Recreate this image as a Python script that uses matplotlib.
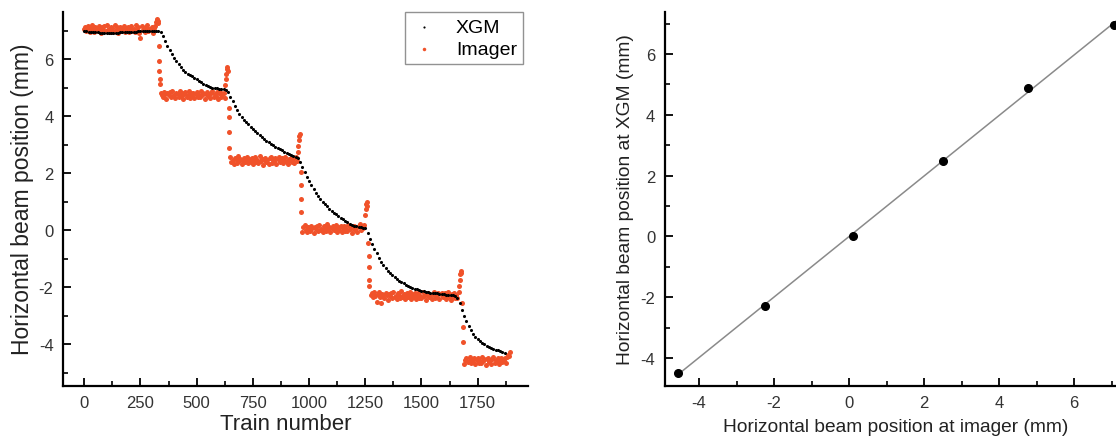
import numpy as np
import matplotlib.pyplot as plt
from matplotlib.ticker import MultipleLocator

plt.rcParams['font.family'] = ['Liberation Sans', 'DejaVu Sans']
plt.rcParams['axes.unicode_minus'] = False

# ---- left panel: XGM (every 10 trains) ----
xgm_flat = [6.99, 6.98, 6.97, 6.97, 6.96, 6.95, 6.94, 6.93, 6.92, 6.92,
            6.91, 6.91, 6.92, 6.92, 6.93, 6.93, 6.94, 6.95, 6.95, 6.96,
            6.96, 6.97, 6.97, 6.97, 6.98, 6.98, 6.98, 6.98, 6.99, 6.99,
            6.99, 7.00, 7.00]                                   # trains 0-320
xgm_step1 = [7.00, 6.96, 6.80, 6.64, 6.48, 6.34, 6.20, 6.06, 5.93, 5.82,
             5.73, 5.64, 5.57, 5.50, 5.45, 5.40, 5.34, 5.29, 5.24, 5.19,
             5.14, 5.10, 5.06, 5.03, 5.00, 4.99, 4.98, 4.97, 4.97, 4.95,
             4.92, 4.86]                                        # trains 330-640
xgm_step2 = [4.68, 4.52, 4.36, 4.22, 4.09, 3.97, 3.87, 3.79, 3.71, 3.63,
             3.55, 3.47, 3.40, 3.33, 3.26, 3.20, 3.14, 3.08, 3.03, 2.98,
             2.93, 2.89, 2.85, 2.80, 2.76, 2.71, 2.67, 2.63, 2.60, 2.56,
             2.52, 2.40]                                        # trains 650-960
xgm_step3 = [2.22, 2.05, 1.88, 1.72, 1.57, 1.43, 1.30, 1.19, 1.09, 1.00,
             0.92, 0.84, 0.76, 0.68, 0.62, 0.56, 0.50, 0.44, 0.38, 0.33,
             0.28, 0.23, 0.19, 0.16, 0.13, 0.11, 0.10, 0.09, 0.06, -0.10]  # 970-1260
xgm_step4 = [-0.30, -0.48, -0.65, -0.81, -0.96, -1.10, -1.23, -1.34, -1.44, -1.52,
             -1.59, -1.66, -1.72, -1.77, -1.82, -1.87, -1.91, -1.95, -1.99, -2.02,
             -2.05, -2.08, -2.10, -2.12, -2.14, -2.16, -2.17, -2.19, -2.20, -2.21,
             -2.22, -2.23, -2.24, -2.25, -2.26, -2.27, -2.27, -2.28, -2.30, -2.38,
             -2.55]                                             # trains 1270-1670
xgm_step5 = [-2.80, -3.02, -3.20, -3.37, -3.52, -3.64, -3.74, -3.82, -3.89, -3.95,
             -4.01, -4.05, -4.10, -4.14, -4.17, -4.20, -4.22, -4.24, -4.27, -4.30]  # 1680-1870

# ---- left panel: imager (every 5 trains on the plateaus) ----
img_a = [7.08, 7.15, 7.00, 7.18, 7.05, 6.96, 7.11, 7.20, 7.02, 6.94,
         7.13, 7.07, 6.98, 7.17, 7.09, 6.92, 7.12, 7.04, 7.16, 6.99,
         7.19, 7.01, 7.06, 6.95, 7.14, 7.10, 6.97, 7.21, 7.03, 7.12,
         6.93, 7.08, 7.15, 7.00, 7.05, 7.18, 6.96, 7.11, 7.02, 7.14,
         6.94, 7.09, 7.17, 6.99, 7.06, 6.97, 7.20, 7.04, 7.12, 6.91,
         6.76, 7.16, 7.01, 7.07, 6.95, 7.13, 7.19, 6.98, 7.08, 7.03,
         7.15, 6.93, 7.11, 7.17]                                # trains 0-315
img_b = [4.82, 4.76, 4.67, 4.86, 4.78, 4.61, 4.81, 4.73, 4.85, 4.68,
         4.88, 4.70, 4.75, 4.64, 4.83, 4.79, 4.66, 4.90, 4.72, 4.81,
         4.62, 4.77, 4.84, 4.69, 4.74, 4.87, 4.65, 4.80, 4.71, 4.83,
         4.63, 4.78, 4.86, 4.68, 4.75, 4.66, 4.89, 4.73, 4.81, 4.60,
         4.79, 4.85, 4.70, 4.76, 4.64, 4.82, 4.88, 4.67, 4.77, 4.72,
         4.84, 4.62, 4.80, 4.86, 4.69, 4.74, 4.83, 4.65]        # trains 340-625
img_c = [2.58, 2.40, 2.45, 2.34, 2.53, 2.49, 2.36, 2.60, 2.42, 2.51,
         2.32, 2.47, 2.54, 2.39, 2.44, 2.57, 2.35, 2.50, 2.41, 2.53,
         2.33, 2.48, 2.56, 2.38, 2.45, 2.36, 2.59, 2.43, 2.51, 2.30,
         2.49, 2.55, 2.40, 2.46, 2.34, 2.52, 2.58, 2.37, 2.47, 2.42,
         2.54, 2.32, 2.50, 2.56, 2.39, 2.44, 2.53, 2.35, 2.48, 2.57,
         2.41, 2.31, 2.51, 2.45, 2.55, 2.38, 2.49, 2.36, 2.58, 2.43]  # 650-945
img_d = [-0.05, 0.10, 0.19, 0.01, -0.07, 0.12, 0.06, -0.03, 0.16, 0.08,
         -0.09, 0.11, 0.03, 0.15, -0.02, 0.18, 0.00, 0.05, -0.06, 0.13,
         0.09, -0.04, 0.20, 0.02, 0.11, -0.08, 0.07, 0.14, -0.01, 0.04,
         0.17, -0.05, 0.10, 0.01, 0.13, -0.07, 0.08, 0.16, -0.02, 0.05,
         -0.04, 0.19, 0.03, 0.11, -0.10, 0.09, 0.15, 0.00, 0.06, -0.06,
         0.14, 0.20, 0.00, 0.10, 0.06, 0.18]                    # trains 970-1245
img_e = [-2.28, -2.21, -2.36, -2.18, -2.31, -2.52, -2.25, -2.16, -2.34, -2.55,
         -2.23, -2.29, -2.38, -2.19, -2.27, -2.44, -2.24, -2.32, -2.20, -2.37,
         -2.17, -2.35, -2.30, -2.41, -2.22, -2.26, -2.39, -2.15, -2.33, -2.24,
         -2.43, -2.28, -2.21, -2.36, -2.31, -2.18, -2.40, -2.25, -2.34, -2.22,
         -2.42, -2.27, -2.19, -2.37, -2.30, -2.39, -2.16, -2.32, -2.24, -2.45,
         -2.26, -2.20, -2.35, -2.29, -2.41, -2.23, -2.17, -2.38, -2.28, -2.33,
         -2.21, -2.43, -2.25, -2.19, -2.36, -2.31, -2.22, -2.40, -2.27, -2.18,
         -2.34, -2.44, -2.24, -2.30, -2.20, -2.37, -2.26, -2.39, -2.17]  # 1275-1665
img_f = [-4.71, -4.56, -4.49, -4.64, -4.59, -4.46, -4.68, -4.53, -4.62, -4.50,
         -4.70, -4.55, -4.47, -4.65, -4.58, -4.67, -4.44, -4.60, -4.52, -4.73,
         -4.54, -4.48, -4.63, -4.57, -4.69, -4.51, -4.45, -4.66, -4.56, -4.61,
         -4.49, -4.71, -4.53, -4.47, -4.64, -4.59, -4.50, -4.68, -4.45, -4.38,
         -4.40, -4.28]                                          # trains 1690-1895

# overshoot spikes and fast transitions of the imager (train, position)
jump_train = [320, 322, 324, 326, 328, 332, 333, 334, 335, 336,
              628, 630, 632, 634, 636, 638, 643, 644, 645, 646,
              950, 952, 954, 956, 958, 962, 963, 964, 965,
              1250, 1252, 1254, 1256, 1258, 1264, 1265, 1266, 1267, 1268,
              1668, 1670, 1672, 1674, 1676, 1681, 1683, 1685]
jump_pos = [7.30, 7.38, 7.42, 7.35, 7.28, 6.47, 5.94, 5.59, 5.30, 5.13,
            5.10, 5.30, 5.50, 5.65, 5.72, 5.58, 4.30, 3.96, 3.44, 2.90,
            2.75, 2.95, 3.15, 3.30, 3.38, 2.05, 1.57, 1.10, 0.63,
            0.55, 0.75, 0.92, 1.00, 0.85, -0.45, -0.90, -1.30, -1.75, -1.96,
            -1.95, -1.75, -1.55, -1.42, -1.50, -2.55, -3.40, -3.92]

# ---- right panel: plateau positions ----
pos_imager = [-4.57, -2.25, 0.09, 2.49, 4.76, 7.07]
pos_xgm = [-4.49, -2.29, 0.00, 2.49, 4.87, 6.96]

xgm_y = np.concatenate([xgm_flat, xgm_step1, xgm_step2, xgm_step3, xgm_step4, xgm_step5])
xgm_x = np.arange(len(xgm_y)) * 10

img_x = np.concatenate([np.arange(0, 316, 5), np.arange(340, 626, 5), np.arange(650, 946, 5),
                        np.arange(970, 1246, 5), np.arange(1275, 1666, 5), np.arange(1690, 1896, 5),
                        jump_train])
img_y = np.concatenate([img_a, img_b, img_c, img_d, img_e, img_f, jump_pos])

orange = '#F0522A'
W, H = 1116, 439
fig = plt.figure(figsize=(W / 100, H / 100), dpi=100)
ax1 = fig.add_axes([63.3 / W, 52.3 / H, 465 / W, 374 / H])
ax2 = fig.add_axes([665 / W, 52.3 / H, 465 / W, 374 / H])

ax1.scatter(xgm_x, xgm_y, s=5, c='black', linewidths=0, label='XGM', zorder=3)
ax1.scatter(img_x, img_y, s=13, c=orange, linewidths=0, label='Imager', zorder=2)
ax1.set_xlim(-93, 1975)
ax1.set_ylim(-5.46, 7.67)
ax1.set_xticks(np.arange(0, 1751, 250))
ax1.xaxis.set_minor_locator(MultipleLocator(125))
ax1.set_xlabel('Train number', fontsize=16, color='#222222')
ax1.set_ylabel('Horizontal beam position (mm)', fontsize=16.5, color='#222222')
ax1.xaxis.set_label_coords(0.479, -0.074)
ax1.yaxis.set_label_coords(-0.064, 0.5)
leg = ax1.legend(loc='upper right', bbox_to_anchor=(1.009, 1.024), fontsize=14,
                 fancybox=False, edgecolor='#777777', markerscale=0.7,
                 handletextpad=1.0, borderpad=0.3, labelspacing=0.25, handlelength=1.3)
leg.get_frame().set_linewidth(1.0)

ax2.plot(pos_imager, pos_xgm, 'o', color='black', ms=5.5, zorder=3)
k, b = np.polyfit(pos_imager, pos_xgm, 1)
fit_x = np.array([pos_imager[0], 7.6])
ax2.plot(fit_x, k * fit_x + b, color='#8a8a8a', lw=1.1, zorder=2)
ax2.set_xlim(-4.91, 7.49)
ax2.set_ylim(-4.91, 7.39)
ax2.set_xticks([-4, -2, 0, 2, 4, 6])
ax2.set_yticks([-4, -2, 0, 2, 4, 6])
ax2.xaxis.set_minor_locator(MultipleLocator(1))
ax2.set_xlabel('Horizontal beam position at imager (mm)', fontsize=13.8, color='#222222')
ax2.set_ylabel('Horizontal beam position at XGM (mm)', fontsize=13.8, color='#222222')
ax2.xaxis.set_label_coords(0.497, -0.086)
ax2.yaxis.set_label_coords(-0.066, 0.5)

for ax in (ax1, ax2):
    ax.yaxis.set_minor_locator(MultipleLocator(1))
    ax.spines['top'].set_visible(False)
    ax.spines['right'].set_visible(False)
    ax.spines['left'].set_linewidth(1.6)
    ax.spines['bottom'].set_linewidth(1.6)
    ax.tick_params(which='major', direction='in', length=6, width=1.3,
                   labelsize=12, labelcolor='#333333', pad=7)
    ax.tick_params(which='minor', direction='in', length=3.5, width=1.2)

fig.savefig('out.png', dpi=100)
